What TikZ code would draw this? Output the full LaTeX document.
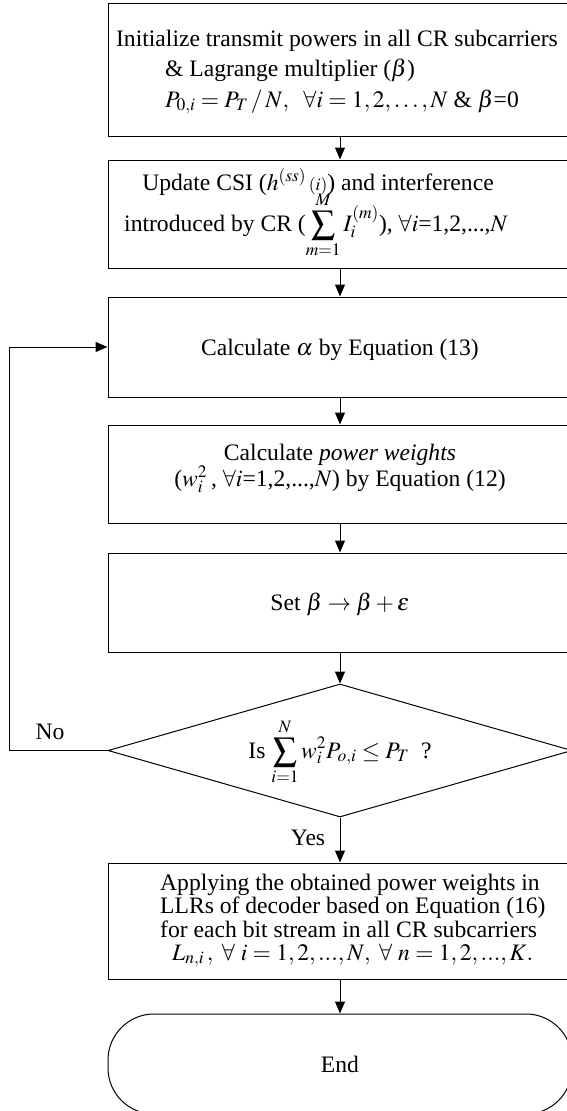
\documentclass[tikz,border=0pt]{standalone}
\usepackage{mathptmx}
\usepackage{fontspec}
\setmainfont{Liberation Serif}
\usetikzlibrary{arrows.meta,shapes.geometric}
\begin{document}
\begin{tikzpicture}[x=1pt,y=-1pt,
  boxst/.style={draw, line width=1pt, rectangle, minimum width=464pt, inner sep=0pt},
  arr/.style={-{Triangle[length=12pt,width=10pt]}, line width=1pt},
  txt/.style={anchor=base, inner sep=0pt, font=\fontsize{23.6}{24}\selectfont},
  txtl/.style={anchor=base west, inner sep=0pt, font=\fontsize{23.6}{24}\selectfont},
  ]
\useasboundingbox (0,0) rectangle (567,1111);
\clip (0,0) rectangle (567,1111);

% boxes
\node[boxst, minimum height=133pt] (b1) at (340,69.5) {};
\node[boxst, minimum height=108pt] (b2) at (340,214) {};
\node[boxst, minimum height=100pt] (b3) at (340,347) {};
\node[boxst, minimum height=98pt]  (b4) at (340,474) {};
\node[boxst, minimum height=99pt]  (b5) at (340,602.5) {};
\node[draw, diamond, line width=1pt, inner sep=0pt, minimum width=464pt, minimum height=133pt] (dia) at (340,750.5) {};
\node[boxst, minimum height=116pt] (b6) at (340,921) {};
\node[draw, line width=1pt, rectangle, rounded corners=46pt, minimum width=464pt, minimum height=100pt,
      font=\fontsize{23.6}{24}\selectfont] (end) at (340,1064) {End};

% texts
\node[txt] (t11) at (337,46) {Initialize transmit powers in all CR subcarriers};
\node[txt] (t12) at (290,76) {\& Lagrange multiplier ($\beta$)};
\node[txt] (t13) at (342,107) {$P_{0,i} = P_T \,/\, N,\ \ \forall i = 1, 2, \ldots, N$ \& $\beta$=0};

\node[txt] (t21) at (318,190) {Update CSI ($h^{(ss)}\,{\scriptstyle(i)}$) and interference};
\node[txt] (t22) at (316,231) {introduced by CR ($\displaystyle\sum_{m=1}^{M} I_i^{(m)}$), $\forall i$=1,2,...,$N$};

\node[txt] (t3) at (340,355) {Calculate $\alpha$ by Equation (13)};

\node[txt] (t41) at (340,460) {Calculate \textit{power weights}};
\node[txt] (t42) at (340,486) {($w_i^2$\,, $\forall i$=1,2,...,$N$) by Equation (12)};

\node[txt] (t5) at (340,610) {Set $\beta \to \beta + \varepsilon$};

\node[txt] (td) at (340,758) {Is $\displaystyle\sum_{i=1}^{N} w_i^2 P_{o,i} \le P_T$\ \ ?};

\node[txtl] (t61) at (160,890) {Applying the obtained power weights in};
\node[txtl] (t62) at (160,913) {LLRs of decoder based on Equation (16)};
\node[txtl] (t63) at (160,937) {for each bit stream in all CR subcarriers};
\node[txtl] (t64) at (172,960) {$L_{n,i}\,,\ \forall\ i = 1, 2, ..., N, \ \forall\ n = 1, 2, ..., K.$};

\node[txt, anchor=center] (no) at (50,732) {No};
\node[txt, anchor=center] (yes) at (308,838) {Yes};

% connectors
\draw[arr] (b1.south) -- (b2.north);
\draw[arr] (b2.south) -- (b3.north);
\draw[arr] (b3.south) -- (b4.north);
\draw[arr] (b4.south) -- (b5.north);
\draw[arr] (b5.south) -- (dia.north);
\draw[arr] (dia.south) -- (b6.north);
\draw[arr] (b6.south) -- (end.north);
\coordinate (fb) at (9,750.5);
\draw[arr] (dia.west) -- (fb) |- (b3.west);
\end{tikzpicture}
\end{document}
